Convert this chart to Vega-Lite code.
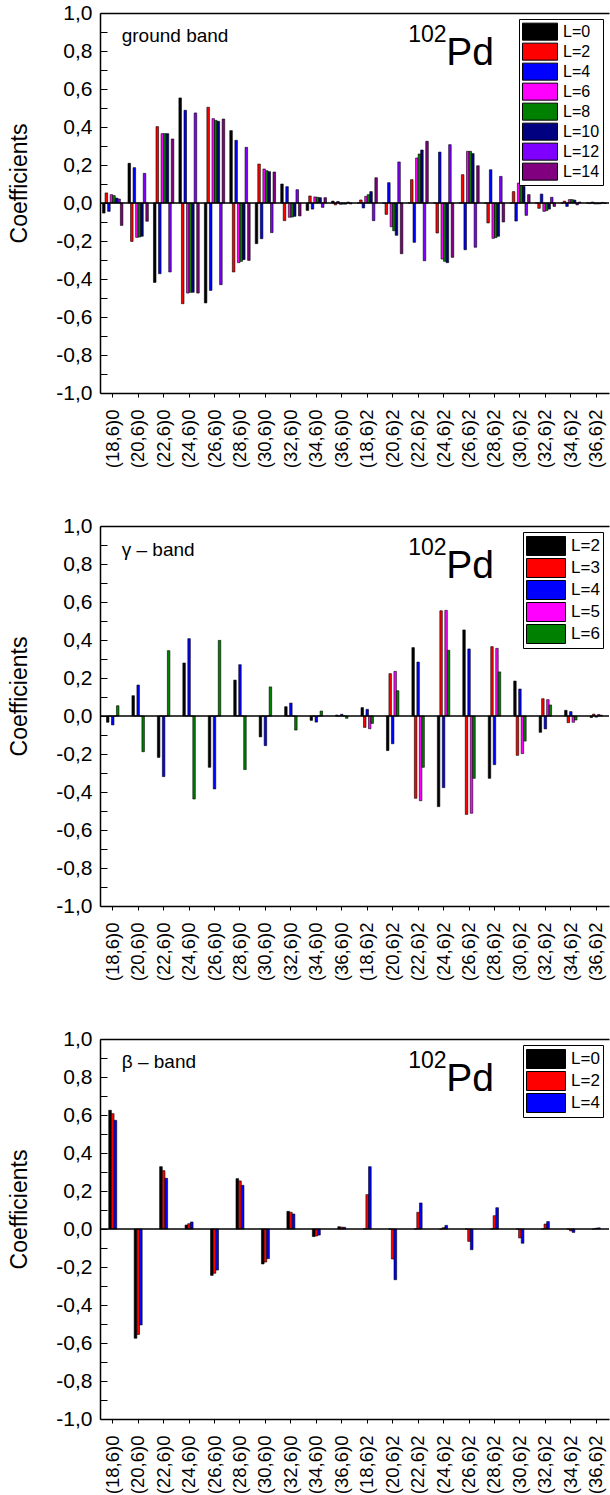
{
"$schema":"https://vega.github.io/schema/vega-lite/v6.json",
"padding":{"left":8,"top":2,"right":0,"bottom":0},
"spacing":47,
"resolve":{"scale":{"x":"independent","xOffset":"independent","color":"independent","y":"independent"},"legend":{"color":"independent"}},
"config":{"view":{"stroke":null},"font":"Liberation Sans",
"axis":{"domainColor":"black","domainWidth":1.5,"tickColor":"black","tickWidth":1,"labelColor":"black","labelFont":"Liberation Sans","titleFont":"Liberation Sans","grid":false},
"legend":{"title":null,"orient":"top-right","offset":6,"symbolStrokeColor":"black","symbolStrokeWidth":1,"labelColor":"black","labelFont":"Liberation Sans","strokeColor":"black","fillColor":"white","padding":3,"rowPadding":0,"labelOffset":5,"symbolOffset":0}},
"datasets":{
"g":[
{"c":"(18,6)0","L":"L=0","v":-0.053},{"c":"(18,6)0","L":"L=2","v":0.053},{"c":"(18,6)0","L":"L=4","v":-0.044},{"c":"(18,6)0","L":"L=6","v":0.044},{"c":"(18,6)0","L":"L=8","v":0.039},{"c":"(18,6)0","L":"L=10","v":0.026},{"c":"(18,6)0","L":"L=12","v":0.021},{"c":"(18,6)0","L":"L=14","v":-0.118},
{"c":"(20,6)0","L":"L=0","v":0.209},{"c":"(20,6)0","L":"L=2","v":-0.202},{"c":"(20,6)0","L":"L=4","v":0.186},{"c":"(20,6)0","L":"L=6","v":-0.181},{"c":"(20,6)0","L":"L=8","v":-0.179},{"c":"(20,6)0","L":"L=10","v":-0.175},{"c":"(20,6)0","L":"L=12","v":0.156},{"c":"(20,6)0","L":"L=14","v":-0.096},
{"c":"(22,6)0","L":"L=0","v":-0.418},{"c":"(22,6)0","L":"L=2","v":0.402},{"c":"(22,6)0","L":"L=4","v":-0.372},{"c":"(22,6)0","L":"L=6","v":0.365},{"c":"(22,6)0","L":"L=8","v":0.365},{"c":"(22,6)0","L":"L=10","v":0.365},{"c":"(22,6)0","L":"L=12","v":-0.363},{"c":"(22,6)0","L":"L=14","v":0.337},
{"c":"(24,6)0","L":"L=0","v":0.553},{"c":"(24,6)0","L":"L=2","v":-0.53},{"c":"(24,6)0","L":"L=4","v":0.488},{"c":"(24,6)0","L":"L=6","v":-0.474},{"c":"(24,6)0","L":"L=8","v":-0.47},{"c":"(24,6)0","L":"L=10","v":-0.47},{"c":"(24,6)0","L":"L=12","v":0.474},{"c":"(24,6)0","L":"L=14","v":-0.474},
{"c":"(26,6)0","L":"L=0","v":-0.526},{"c":"(26,6)0","L":"L=2","v":0.504},{"c":"(26,6)0","L":"L=4","v":-0.46},{"c":"(26,6)0","L":"L=6","v":0.444},{"c":"(26,6)0","L":"L=8","v":0.435},{"c":"(26,6)0","L":"L=10","v":0.43},{"c":"(26,6)0","L":"L=12","v":-0.43},{"c":"(26,6)0","L":"L=14","v":0.442},
{"c":"(28,6)0","L":"L=0","v":0.381},{"c":"(28,6)0","L":"L=2","v":-0.363},{"c":"(28,6)0","L":"L=4","v":0.33},{"c":"(28,6)0","L":"L=6","v":-0.314},{"c":"(28,6)0","L":"L=8","v":-0.307},{"c":"(28,6)0","L":"L=10","v":-0.298},{"c":"(28,6)0","L":"L=12","v":0.293},{"c":"(28,6)0","L":"L=14","v":-0.302},
{"c":"(30,6)0","L":"L=0","v":-0.214},{"c":"(30,6)0","L":"L=2","v":0.205},{"c":"(30,6)0","L":"L=4","v":-0.188},{"c":"(30,6)0","L":"L=6","v":0.179},{"c":"(30,6)0","L":"L=8","v":0.17},{"c":"(30,6)0","L":"L=10","v":0.165},{"c":"(30,6)0","L":"L=12","v":-0.156},{"c":"(30,6)0","L":"L=14","v":0.163},
{"c":"(32,6)0","L":"L=0","v":0.1},{"c":"(32,6)0","L":"L=2","v":-0.093},{"c":"(32,6)0","L":"L=4","v":0.086},{"c":"(32,6)0","L":"L=6","v":-0.075},{"c":"(32,6)0","L":"L=8","v":-0.074},{"c":"(32,6)0","L":"L=10","v":-0.07},{"c":"(32,6)0","L":"L=12","v":0.07},{"c":"(32,6)0","L":"L=14","v":-0.068},
{"c":"(34,6)0","L":"L=0","v":-0.039},{"c":"(34,6)0","L":"L=2","v":0.037},{"c":"(34,6)0","L":"L=4","v":-0.032},{"c":"(34,6)0","L":"L=6","v":0.032},{"c":"(34,6)0","L":"L=8","v":0.03},{"c":"(34,6)0","L":"L=10","v":0.028},{"c":"(34,6)0","L":"L=12","v":-0.023},{"c":"(34,6)0","L":"L=14","v":0.028},
{"c":"(36,6)0","L":"L=0","v":0.01},{"c":"(36,6)0","L":"L=2","v":-0.01},{"c":"(36,6)0","L":"L=4","v":0.008},{"c":"(36,6)0","L":"L=6","v":-0.007},{"c":"(36,6)0","L":"L=8","v":-0.006},{"c":"(36,6)0","L":"L=10","v":-0.006},{"c":"(36,6)0","L":"L=12","v":0.005},{"c":"(36,6)0","L":"L=14","v":-0.005},
{"c":"(18,6)2","L":"L=0","v":0},{"c":"(18,6)2","L":"L=2","v":0.016},{"c":"(18,6)2","L":"L=4","v":-0.026},{"c":"(18,6)2","L":"L=6","v":0.035},{"c":"(18,6)2","L":"L=8","v":0.044},{"c":"(18,6)2","L":"L=10","v":0.06},{"c":"(18,6)2","L":"L=12","v":-0.093},{"c":"(18,6)2","L":"L=14","v":0.133},
{"c":"(20,6)2","L":"L=0","v":0},{"c":"(20,6)2","L":"L=2","v":-0.06},{"c":"(20,6)2","L":"L=4","v":0.107},{"c":"(20,6)2","L":"L=6","v":-0.125},{"c":"(20,6)2","L":"L=8","v":-0.146},{"c":"(20,6)2","L":"L=10","v":-0.17},{"c":"(20,6)2","L":"L=12","v":0.216},{"c":"(20,6)2","L":"L=14","v":-0.267},
{"c":"(22,6)2","L":"L=0","v":0},{"c":"(22,6)2","L":"L=2","v":0.123},{"c":"(22,6)2","L":"L=4","v":-0.207},{"c":"(22,6)2","L":"L=6","v":0.237},{"c":"(22,6)2","L":"L=8","v":0.258},{"c":"(22,6)2","L":"L=10","v":0.279},{"c":"(22,6)2","L":"L=12","v":-0.304},{"c":"(22,6)2","L":"L=14","v":0.325},
{"c":"(24,6)2","L":"L=0","v":0},{"c":"(24,6)2","L":"L=2","v":-0.158},{"c":"(24,6)2","L":"L=4","v":0.268},{"c":"(24,6)2","L":"L=6","v":-0.295},{"c":"(24,6)2","L":"L=8","v":-0.307},{"c":"(24,6)2","L":"L=10","v":-0.314},{"c":"(24,6)2","L":"L=12","v":0.307},{"c":"(24,6)2","L":"L=14","v":-0.286},
{"c":"(26,6)2","L":"L=0","v":0},{"c":"(26,6)2","L":"L=2","v":0.149},{"c":"(26,6)2","L":"L=4","v":-0.246},{"c":"(26,6)2","L":"L=6","v":0.272},{"c":"(26,6)2","L":"L=8","v":0.272},{"c":"(26,6)2","L":"L=10","v":0.26},{"c":"(26,6)2","L":"L=12","v":-0.233},{"c":"(26,6)2","L":"L=14","v":0.196},
{"c":"(28,6)2","L":"L=0","v":0},{"c":"(28,6)2","L":"L=2","v":-0.105},{"c":"(28,6)2","L":"L=4","v":0.175},{"c":"(28,6)2","L":"L=6","v":-0.186},{"c":"(28,6)2","L":"L=8","v":-0.182},{"c":"(28,6)2","L":"L=10","v":-0.175},{"c":"(28,6)2","L":"L=12","v":0.14},{"c":"(28,6)2","L":"L=14","v":-0.1},
{"c":"(30,6)2","L":"L=0","v":0},{"c":"(30,6)2","L":"L=2","v":0.06},{"c":"(30,6)2","L":"L=4","v":-0.095},{"c":"(30,6)2","L":"L=6","v":0.105},{"c":"(30,6)2","L":"L=8","v":0.098},{"c":"(30,6)2","L":"L=10","v":0.088},{"c":"(30,6)2","L":"L=12","v":-0.065},{"c":"(30,6)2","L":"L=14","v":0.044},
{"c":"(32,6)2","L":"L=0","v":0},{"c":"(32,6)2","L":"L=2","v":-0.028},{"c":"(32,6)2","L":"L=4","v":0.047},{"c":"(32,6)2","L":"L=6","v":-0.044},{"c":"(32,6)2","L":"L=8","v":-0.04},{"c":"(32,6)2","L":"L=10","v":-0.032},{"c":"(32,6)2","L":"L=12","v":0.03},{"c":"(32,6)2","L":"L=14","v":-0.018},
{"c":"(34,6)2","L":"L=0","v":0},{"c":"(34,6)2","L":"L=2","v":0.01},{"c":"(34,6)2","L":"L=4","v":-0.018},{"c":"(34,6)2","L":"L=6","v":0.018},{"c":"(34,6)2","L":"L=8","v":0.018},{"c":"(34,6)2","L":"L=10","v":0.015},{"c":"(34,6)2","L":"L=12","v":-0.01},{"c":"(34,6)2","L":"L=14","v":0.005},
{"c":"(36,6)2","L":"L=0","v":0},{"c":"(36,6)2","L":"L=2","v":-0.003},{"c":"(36,6)2","L":"L=4","v":0.005},{"c":"(36,6)2","L":"L=6","v":-0.005},{"c":"(36,6)2","L":"L=8","v":-0.005},{"c":"(36,6)2","L":"L=10","v":-0.004},{"c":"(36,6)2","L":"L=12","v":0.003},{"c":"(36,6)2","L":"L=14","v":-0.002}
],
"gam":[
{"c":"(18,6)0","L":"L=2","v":-0.033},{"c":"(18,6)0","L":"L=3","v":0},{"c":"(18,6)0","L":"L=4","v":-0.047},{"c":"(18,6)0","L":"L=5","v":0},{"c":"(18,6)0","L":"L=6","v":0.054},
{"c":"(20,6)0","L":"L=2","v":0.107},{"c":"(20,6)0","L":"L=3","v":0},{"c":"(20,6)0","L":"L=4","v":0.163},{"c":"(20,6)0","L":"L=5","v":0},{"c":"(20,6)0","L":"L=6","v":-0.188},
{"c":"(22,6)0","L":"L=2","v":-0.218},{"c":"(22,6)0","L":"L=3","v":0},{"c":"(22,6)0","L":"L=4","v":-0.319},{"c":"(22,6)0","L":"L=5","v":0},{"c":"(22,6)0","L":"L=6","v":0.344},
{"c":"(24,6)0","L":"L=2","v":0.279},{"c":"(24,6)0","L":"L=3","v":0},{"c":"(24,6)0","L":"L=4","v":0.407},{"c":"(24,6)0","L":"L=5","v":0},{"c":"(24,6)0","L":"L=6","v":-0.437},
{"c":"(26,6)0","L":"L=2","v":-0.27},{"c":"(26,6)0","L":"L=3","v":0},{"c":"(26,6)0","L":"L=4","v":-0.384},{"c":"(26,6)0","L":"L=5","v":0},{"c":"(26,6)0","L":"L=6","v":0.398},
{"c":"(28,6)0","L":"L=2","v":0.189},{"c":"(28,6)0","L":"L=3","v":0},{"c":"(28,6)0","L":"L=4","v":0.27},{"c":"(28,6)0","L":"L=5","v":0},{"c":"(28,6)0","L":"L=6","v":-0.282},
{"c":"(30,6)0","L":"L=2","v":-0.11},{"c":"(30,6)0","L":"L=3","v":0},{"c":"(30,6)0","L":"L=4","v":-0.156},{"c":"(30,6)0","L":"L=5","v":0},{"c":"(30,6)0","L":"L=6","v":0.153},
{"c":"(32,6)0","L":"L=2","v":0.049},{"c":"(32,6)0","L":"L=3","v":0},{"c":"(32,6)0","L":"L=4","v":0.068},{"c":"(32,6)0","L":"L=5","v":0},{"c":"(32,6)0","L":"L=6","v":-0.074},
{"c":"(34,6)0","L":"L=2","v":-0.023},{"c":"(34,6)0","L":"L=3","v":0},{"c":"(34,6)0","L":"L=4","v":-0.032},{"c":"(34,6)0","L":"L=5","v":0},{"c":"(34,6)0","L":"L=6","v":0.026},
{"c":"(36,6)0","L":"L=2","v":0.005},{"c":"(36,6)0","L":"L=3","v":0},{"c":"(36,6)0","L":"L=4","v":0.009},{"c":"(36,6)0","L":"L=5","v":0},{"c":"(36,6)0","L":"L=6","v":-0.012},
{"c":"(18,6)2","L":"L=2","v":0.044},{"c":"(18,6)2","L":"L=3","v":-0.06},{"c":"(18,6)2","L":"L=4","v":0.035},{"c":"(18,6)2","L":"L=5","v":-0.067},{"c":"(18,6)2","L":"L=6","v":-0.039},
{"c":"(20,6)2","L":"L=2","v":-0.182},{"c":"(20,6)2","L":"L=3","v":0.223},{"c":"(20,6)2","L":"L=4","v":-0.146},{"c":"(20,6)2","L":"L=5","v":0.235},{"c":"(20,6)2","L":"L=6","v":0.133},
{"c":"(22,6)2","L":"L=2","v":0.36},{"c":"(22,6)2","L":"L=3","v":-0.433},{"c":"(22,6)2","L":"L=4","v":0.284},{"c":"(22,6)2","L":"L=5","v":-0.446},{"c":"(22,6)2","L":"L=6","v":-0.27},
{"c":"(24,6)2","L":"L=2","v":-0.477},{"c":"(24,6)2","L":"L=3","v":0.554},{"c":"(24,6)2","L":"L=4","v":-0.377},{"c":"(24,6)2","L":"L=5","v":0.556},{"c":"(24,6)2","L":"L=6","v":0.346},
{"c":"(26,6)2","L":"L=2","v":0.453},{"c":"(26,6)2","L":"L=3","v":-0.518},{"c":"(26,6)2","L":"L=4","v":0.353},{"c":"(26,6)2","L":"L=5","v":-0.512},{"c":"(26,6)2","L":"L=6","v":-0.328},
{"c":"(28,6)2","L":"L=2","v":-0.328},{"c":"(28,6)2","L":"L=3","v":0.365},{"c":"(28,6)2","L":"L=4","v":-0.256},{"c":"(28,6)2","L":"L=5","v":0.356},{"c":"(28,6)2","L":"L=6","v":0.232},
{"c":"(30,6)2","L":"L=2","v":0.184},{"c":"(30,6)2","L":"L=3","v":-0.207},{"c":"(30,6)2","L":"L=4","v":0.142},{"c":"(30,6)2","L":"L=5","v":-0.198},{"c":"(30,6)2","L":"L=6","v":-0.132},
{"c":"(32,6)2","L":"L=2","v":-0.086},{"c":"(32,6)2","L":"L=3","v":0.091},{"c":"(32,6)2","L":"L=4","v":-0.068},{"c":"(32,6)2","L":"L=5","v":0.086},{"c":"(32,6)2","L":"L=6","v":0.058},
{"c":"(34,6)2","L":"L=2","v":0.03},{"c":"(34,6)2","L":"L=3","v":-0.035},{"c":"(34,6)2","L":"L=4","v":0.023},{"c":"(34,6)2","L":"L=5","v":-0.033},{"c":"(34,6)2","L":"L=6","v":-0.021},
{"c":"(36,6)2","L":"L=2","v":-0.008},{"c":"(36,6)2","L":"L=3","v":0.01},{"c":"(36,6)2","L":"L=4","v":-0.006},{"c":"(36,6)2","L":"L=5","v":0.008},{"c":"(36,6)2","L":"L=6","v":0.004}
],
"bet":[
{"c":"(18,6)0","L":"L=0","v":0.625},{"c":"(18,6)0","L":"L=2","v":0.607},{"c":"(18,6)0","L":"L=4","v":0.572},
{"c":"(20,6)0","L":"L=0","v":-0.575},{"c":"(20,6)0","L":"L=2","v":-0.555},{"c":"(20,6)0","L":"L=4","v":-0.505},
{"c":"(22,6)0","L":"L=0","v":0.328},{"c":"(22,6)0","L":"L=2","v":0.307},{"c":"(22,6)0","L":"L=4","v":0.267},
{"c":"(24,6)0","L":"L=0","v":0.021},{"c":"(24,6)0","L":"L=2","v":0.028},{"c":"(24,6)0","L":"L=4","v":0.037},
{"c":"(26,6)0","L":"L=0","v":-0.244},{"c":"(26,6)0","L":"L=2","v":-0.233},{"c":"(26,6)0","L":"L=4","v":-0.216},
{"c":"(28,6)0","L":"L=0","v":0.265},{"c":"(28,6)0","L":"L=2","v":0.253},{"c":"(28,6)0","L":"L=4","v":0.23},
{"c":"(30,6)0","L":"L=0","v":-0.184},{"c":"(30,6)0","L":"L=2","v":-0.174},{"c":"(30,6)0","L":"L=4","v":-0.156},
{"c":"(32,6)0","L":"L=0","v":0.093},{"c":"(32,6)0","L":"L=2","v":0.088},{"c":"(32,6)0","L":"L=4","v":0.079},
{"c":"(34,6)0","L":"L=0","v":-0.04},{"c":"(34,6)0","L":"L=2","v":-0.037},{"c":"(34,6)0","L":"L=4","v":-0.032},
{"c":"(36,6)0","L":"L=0","v":0.012},{"c":"(36,6)0","L":"L=2","v":0.01},{"c":"(36,6)0","L":"L=4","v":0.009},
{"c":"(18,6)2","L":"L=0","v":0},{"c":"(18,6)2","L":"L=2","v":0.181},{"c":"(18,6)2","L":"L=4","v":0.328},
{"c":"(20,6)2","L":"L=0","v":0},{"c":"(20,6)2","L":"L=2","v":-0.158},{"c":"(20,6)2","L":"L=4","v":-0.267},
{"c":"(22,6)2","L":"L=0","v":0},{"c":"(22,6)2","L":"L=2","v":0.088},{"c":"(22,6)2","L":"L=4","v":0.137},
{"c":"(24,6)2","L":"L=0","v":0},{"c":"(24,6)2","L":"L=2","v":0.007},{"c":"(24,6)2","L":"L=4","v":0.019},
{"c":"(26,6)2","L":"L=0","v":0},{"c":"(26,6)2","L":"L=2","v":-0.065},{"c":"(26,6)2","L":"L=4","v":-0.109},
{"c":"(28,6)2","L":"L=0","v":0},{"c":"(28,6)2","L":"L=2","v":0.07},{"c":"(28,6)2","L":"L=4","v":0.112},
{"c":"(30,6)2","L":"L=0","v":0},{"c":"(30,6)2","L":"L=2","v":-0.047},{"c":"(30,6)2","L":"L=4","v":-0.075},
{"c":"(32,6)2","L":"L=0","v":0},{"c":"(32,6)2","L":"L=2","v":0.026},{"c":"(32,6)2","L":"L=4","v":0.039},
{"c":"(34,6)2","L":"L=0","v":0},{"c":"(34,6)2","L":"L=2","v":-0.01},{"c":"(34,6)2","L":"L=4","v":-0.018},
{"c":"(36,6)2","L":"L=0","v":0},{"c":"(36,6)2","L":"L=2","v":0.004},{"c":"(36,6)2","L":"L=4","v":0.006}
]},
"vconcat":[
{"width":509,"height":380,"resolve":{"axis":{"x":"independent","y":"independent"}},
"layer":[
{"data":{"name":"g"},"mark":{"type":"bar","stroke":"black","strokeWidth":0.6},
"encoding":{
"x":{"field":"c","type":"nominal","scale":{"domain":["(18,6)0","(20,6)0","(22,6)0","(24,6)0","(26,6)0","(28,6)0","(30,6)0","(32,6)0","(34,6)0","(36,6)0","(18,6)2","(20,6)2","(22,6)2","(24,6)2","(26,6)2","(28,6)2","(30,6)2","(32,6)2","(34,6)2","(36,6)2"],"paddingInner":0.2,"paddingOuter":0.1},"axis":{"orient":"bottom","title":null,"labelAngle":-90,"labelFontSize":18.5,"tickSize":4,"labelPadding":12}},
"xOffset":{"field":"L","type":"nominal","scale":{"domain":["L=0","L=2","L=4","L=6","L=8","L=10","L=12","L=14"]}},
"y":{"field":"v","type":"quantitative","scale":{"domain":[-1,1],"nice":false,"zero":false},"axis":{"orient":"left","title":"Coefficients","values":[-1,-0.9,-0.8,-0.7,-0.6,-0.5,-0.4,-0.3,-0.2,-0.1,0,0.1,0.2,0.3,0.4,0.5,0.6,0.7,0.8,0.9,1],"tickSize":-7,"labelExpr":"abs(round(datum.value*10)) % 2 == 0 ? (datum.value < -0.001 ? '-' : '') + replace(format(abs(datum.value), '.1f'), '.', ',') : ''","labelFontSize":21,"labelPadding":15,"labelOverlap":false,"labelFlush":false,"titleFontSize":23,"titleFontWeight":"normal","titleColor":"black","titleX":-74,"titleY":170,"titleBaseline":"alphabetic","titleAngle":-90,"titleAlign":"center"}},
"color":{"field":"L","type":"nominal","scale":{"domain":["L=0","L=2","L=4","L=6","L=8","L=10","L=12","L=14"],"range":["#000000","#FF0000","#0000FF","#FF00FF","#008000","#000080","#8000FF","#800080"]},"legend":{"symbolType":"M-1,-0.486H1V0.486H-1Z","symbolSize":1225,"clipHeight":19.3,"labelFontSize":16}}}},
{"data":{"values":[{}]},"mark":{"type":"rule","color":"black","strokeWidth":1.5},"encoding":{"y":{"datum":0,"type":"quantitative","axis":null}}},
{"data":{"values":[{}]},"mark":{"type":"text","text":"ground band","fontSize":19,"align":"left","baseline":"alphabetic","dx":9,"color":"black"},"encoding":{"x":{"datum":"(18,6)0","type":"nominal","axis":null},"y":{"datum":0.845,"type":"quantitative","axis":null}}},
{"data":{"values":[{}]},"mark":{"type":"text","text":"102","fontSize":23,"align":"left","baseline":"alphabetic","dx":-10,"color":"black"},"encoding":{"x":{"datum":"(22,6)2","type":"nominal","axis":{"orient":"top","labels":false,"ticks":false,"title":null,"domain":true}},"y":{"datum":0.846,"type":"quantitative","axis":null}}},
{"data":{"values":[{}]},"mark":{"type":"text","text":"Pd","fontSize":39,"align":"left","baseline":"alphabetic","dx":28,"color":"black"},"encoding":{"x":{"datum":"(22,6)2","type":"nominal","axis":null},"y":{"datum":0.725,"type":"quantitative","axis":null}}}
]},
{"width":509,"height":380,"resolve":{"axis":{"x":"independent","y":"independent"}},
"layer":[
{"data":{"name":"gam"},"mark":{"type":"bar","stroke":"black","strokeWidth":0.6},
"encoding":{
"x":{"field":"c","type":"nominal","scale":{"domain":["(18,6)0","(20,6)0","(22,6)0","(24,6)0","(26,6)0","(28,6)0","(30,6)0","(32,6)0","(34,6)0","(36,6)0","(18,6)2","(20,6)2","(22,6)2","(24,6)2","(26,6)2","(28,6)2","(30,6)2","(32,6)2","(34,6)2","(36,6)2"],"paddingInner":0.51,"paddingOuter":0.255},"axis":{"orient":"bottom","title":null,"labelAngle":-90,"labelFontSize":18.5,"tickSize":4,"labelPadding":12}},
"xOffset":{"field":"L","type":"nominal","scale":{"domain":["L=2","L=3","L=4","L=5","L=6"]}},
"y":{"field":"v","type":"quantitative","scale":{"domain":[-1,1],"nice":false,"zero":false},"axis":{"orient":"left","title":"Coefficients","values":[-1,-0.9,-0.8,-0.7,-0.6,-0.5,-0.4,-0.3,-0.2,-0.1,0,0.1,0.2,0.3,0.4,0.5,0.6,0.7,0.8,0.9,1],"tickSize":-7,"labelExpr":"abs(round(datum.value*10)) % 2 == 0 ? (datum.value < -0.001 ? '-' : '') + replace(format(abs(datum.value), '.1f'), '.', ',') : ''","labelFontSize":21,"labelPadding":15,"labelOverlap":false,"labelFlush":false,"titleFontSize":23,"titleFontWeight":"normal","titleColor":"black","titleX":-74,"titleY":170,"titleBaseline":"alphabetic","titleAngle":-90,"titleAlign":"center"}},
"color":{"field":"L","type":"nominal","scale":{"domain":["L=2","L=3","L=4","L=5","L=6"],"range":["#000000","#FF0000","#0000FF","#FF00FF","#008000"]},"legend":{"symbolType":"M-1,-0.487H1V0.487H-1Z","symbolSize":1521,"clipHeight":22,"labelFontSize":17}}}},
{"data":{"values":[{}]},"mark":{"type":"rule","color":"black","strokeWidth":1.5},"encoding":{"y":{"datum":0,"type":"quantitative","axis":null}}},
{"data":{"values":[{}]},"mark":{"type":"text","text":"γ – band","fontSize":19,"align":"left","baseline":"alphabetic","dx":9,"color":"black"},"encoding":{"x":{"datum":"(18,6)0","type":"nominal","axis":null},"y":{"datum":0.844,"type":"quantitative","axis":null}}},
{"data":{"values":[{}]},"mark":{"type":"text","text":"102","fontSize":23,"align":"left","baseline":"alphabetic","dx":-10,"color":"black"},"encoding":{"x":{"datum":"(22,6)2","type":"nominal","axis":{"orient":"top","labels":false,"ticks":false,"title":null,"domain":true}},"y":{"datum":0.846,"type":"quantitative","axis":null}}},
{"data":{"values":[{}]},"mark":{"type":"text","text":"Pd","fontSize":39,"align":"left","baseline":"alphabetic","dx":28,"color":"black"},"encoding":{"x":{"datum":"(22,6)2","type":"nominal","axis":null},"y":{"datum":0.725,"type":"quantitative","axis":null}}}
]},
{"width":509,"height":380,"resolve":{"axis":{"x":"independent","y":"independent"}},
"layer":[
{"data":{"name":"bet"},"mark":{"type":"bar","stroke":"black","strokeWidth":0.6},
"encoding":{
"x":{"field":"c","type":"nominal","scale":{"domain":["(18,6)0","(20,6)0","(22,6)0","(24,6)0","(26,6)0","(28,6)0","(30,6)0","(32,6)0","(34,6)0","(36,6)0","(18,6)2","(20,6)2","(22,6)2","(24,6)2","(26,6)2","(28,6)2","(30,6)2","(32,6)2","(34,6)2","(36,6)2"],"paddingInner":0.686,"paddingOuter":0.343},"axis":{"orient":"bottom","title":null,"labelAngle":-90,"labelFontSize":18.5,"tickSize":4,"labelPadding":12}},
"xOffset":{"field":"L","type":"nominal","scale":{"domain":["L=0","L=2","L=4"]}},
"y":{"field":"v","type":"quantitative","scale":{"domain":[-1,1],"nice":false,"zero":false},"axis":{"orient":"left","title":"Coefficients","values":[-1,-0.9,-0.8,-0.7,-0.6,-0.5,-0.4,-0.3,-0.2,-0.1,0,0.1,0.2,0.3,0.4,0.5,0.6,0.7,0.8,0.9,1],"tickSize":-7,"labelExpr":"abs(round(datum.value*10)) % 2 == 0 ? (datum.value < -0.001 ? '-' : '') + replace(format(abs(datum.value), '.1f'), '.', ',') : ''","labelFontSize":21,"labelPadding":15,"labelOverlap":false,"labelFlush":false,"titleFontSize":23,"titleFontWeight":"normal","titleColor":"black","titleX":-74,"titleY":170,"titleBaseline":"alphabetic","titleAngle":-90,"titleAlign":"center"}},
"color":{"field":"L","type":"nominal","scale":{"domain":["L=0","L=2","L=4"],"range":["#000000","#FF0000","#0000FF"]},"legend":{"symbolType":"M-1,-0.487H1V0.487H-1Z","symbolSize":1521,"clipHeight":22,"labelFontSize":17}}}},
{"data":{"values":[{}]},"mark":{"type":"rule","color":"black","strokeWidth":1.5},"encoding":{"y":{"datum":0,"type":"quantitative","axis":null}}},
{"data":{"values":[{}]},"mark":{"type":"text","text":"β – band","fontSize":19,"align":"left","baseline":"alphabetic","dx":9,"color":"black"},"encoding":{"x":{"datum":"(18,6)0","type":"nominal","axis":null},"y":{"datum":0.847,"type":"quantitative","axis":null}}},
{"data":{"values":[{}]},"mark":{"type":"text","text":"102","fontSize":23,"align":"left","baseline":"alphabetic","dx":-10,"color":"black"},"encoding":{"x":{"datum":"(22,6)2","type":"nominal","axis":{"orient":"top","labels":false,"ticks":false,"title":null,"domain":true}},"y":{"datum":0.846,"type":"quantitative","axis":null}}},
{"data":{"values":[{}]},"mark":{"type":"text","text":"Pd","fontSize":39,"align":"left","baseline":"alphabetic","dx":28,"color":"black"},"encoding":{"x":{"datum":"(22,6)2","type":"nominal","axis":null},"y":{"datum":0.725,"type":"quantitative","axis":null}}}
]}
]
}
